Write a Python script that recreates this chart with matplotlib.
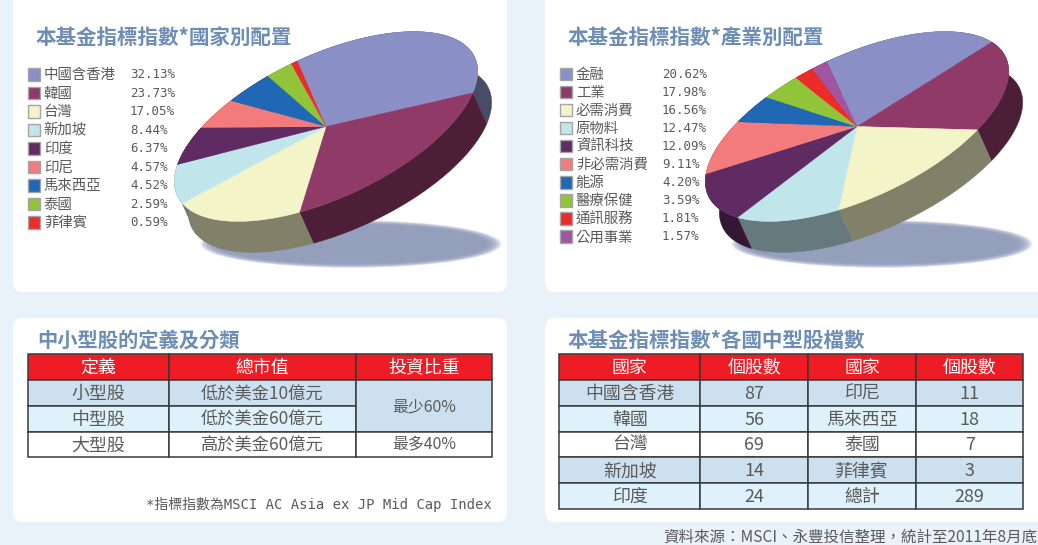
import numpy as np
import matplotlib
matplotlib.use("Agg")
import matplotlib.pyplot as plt
from matplotlib.colors import to_rgb
from matplotlib.patches import Ellipse, FancyBboxPatch, Polygon, Rectangle

plt.rcParams['font.family'] = ['Noto Sans CJK TC', 'DejaVu Sans']
MONO = ['DejaVu Sans Mono', 'Noto Sans CJK TC']

# data
country_names = ["中國含香港", "韓國", "台灣", "新加坡", "印度", "印尼", "馬來西亞", "泰國", "菲律賓"]
country_values = [32.13, 23.73, 17.05, 8.44, 6.37, 4.57, 4.52, 2.59, 0.59]
sector_names = ["金融", "工業", "必需消費", "原物料", "資訊科技", "非必需消費", "能源", "醫療保健", "通訊服務", "公用事業"]
sector_values = [20.62, 17.98, 16.56, 12.47, 12.09, 9.11, 4.20, 3.59, 1.81, 1.57]

size_header = ["定義", "總市值", "投資比重"]
size_col1 = ["小型股", "中型股", "大型股"]
size_col2 = ["低於美金10億元", "低於美金60億元", "高於美金60億元"]
size_col3 = ["最少60%", "最多40%"]

count_header = ["國家", "個股數", "國家", "個股數"]
count_names1 = ["中國含香港", "韓國", "台灣", "新加坡", "印度"]
count_values1 = ["87", "56", "69", "14", "24"]
count_names2 = ["印尼", "馬來西亞", "泰國", "菲律賓", "總計"]
count_values2 = ["11", "18", "7", "3", "289"]

# styles
slice_colors = ["#8a8fc6", "#8f3a67", "#f3f4c8", "#c0e6ec", "#602b62",
                "#f37b7c", "#2068b4", "#92c43a", "#ee2b2b", "#a0559f"]
BG = "#e9f1f9"
TITLE = "#6d8db5"
TEXT = "#5a5a5a"
ROWS = ["#cde0ef", "#dff1fa", "#ffffff"]
RED = "#ee1c25"

fig = plt.figure(figsize=(10.38, 5.45), dpi=100, facecolor=BG)
ax = fig.add_axes([0, 0, 1, 1])
ax.set_xlim(0, 1038)
ax.set_ylim(545, 0)
ax.axis("off")


def card(x0, y0, x1, y1):
    ax.add_patch(FancyBboxPatch((x0, y0), x1 - x0, y1 - y0, boxstyle="round,pad=0,rounding_size=10",
                                fc="white", ec="none", zorder=1))


card(13, -20, 507, 292)
card(545, -20, 1060, 292)
card(13, 318, 507, 522)
card(545, 318, 1060, 522)

A, B = 164, 71.5
PHI = np.radians(25)
DX, DY = 14, 31


def rim(cx, cy, t):
    x = cx + A * np.cos(t) * np.cos(PHI) - B * np.sin(t) * np.sin(PHI)
    y = cy - (A * np.cos(t) * np.sin(PHI) + B * np.sin(t) * np.cos(PHI))
    return np.column_stack([x, y])


def pie(cx, cy, values, start):
    # soft shadow under the pie
    for s in np.linspace(1.03, 0.93, 12):
        ax.add_patch(Ellipse((cx + 25, 244), 292 * s, 45 * s ** 2, fc="#8b98b8", ec="none", alpha=0.18, zorder=2))
    # clockwise from the start angle
    edges = np.radians(start - np.cumsum([0] + list(values)) * 3.6)
    for i in range(len(values)):
        t = np.linspace(edges[i], edges[i + 1], 80)
        arc = rim(cx, cy, t)
        low = arc + [DX, DY]
        dark = tuple(c * 0.53 for c in to_rgb(slice_colors[i]))
        ax.add_patch(Polygon(np.vstack([arc, low[::-1]]), fc=dark, ec=dark, lw=0.3, zorder=3))
    for i in range(len(values)):
        t = np.linspace(edges[i], edges[i + 1], 80)
        arc = rim(cx, cy, t)
        ax.add_patch(Polygon(np.vstack([[cx, cy], arc]), fc=slice_colors[i], ec=slice_colors[i], lw=0.3, zorder=4))


def legend(names, values, x_box, x_val, y0, step):
    for i, (name, val) in enumerate(zip(names, values)):
        y = y0 + i * step
        ax.add_patch(Rectangle((x_box, y - 6.2), 12.6, 12.4, fc=slice_colors[i], ec="#a5a5a5", lw=1, zorder=3))
        ax.text(x_box + 16, y + 1, name, fontsize=10.4, color=TEXT, va="center", ha="left", zorder=5)
        ax.text(x_val, y + 0.5, "%.2f%%" % val, fontsize=9, color=TEXT, family=MONO, va="center", ha="left", zorder=5)


def cell(x0, x1, y0, y1, label, fc, color=TEXT, size=12.9):
    ax.add_patch(Rectangle((x0, y0), x1 - x0, y1 - y0, fc=fc, ec="#3a3a3a", lw=1.1, zorder=3))
    ax.text((x0 + x1) / 2, (y0 + y1) / 2 + 0.8, label, fontsize=size, color=color, ha="center", va="center", zorder=5)


pie(326, 126.5, country_values, 89.5)
pie(857, 126.5, sector_values, 90)
legend(country_names, country_values, 27.8, 130, 74.3, 18.5)
legend(sector_names, sector_values, 559.8, 662, 74, 18.05)

ax.text(36, 38, "本基金指標指數*國家別配置", fontsize=14.8, fontweight="bold", color=TITLE, va="center", zorder=5)
ax.text(567.5, 38, "本基金指標指數*產業別配置", fontsize=14.8, fontweight="bold", color=TITLE, va="center", zorder=5)
ax.text(37.5, 340, "中小型股的定義及分類", fontsize=14.6, fontweight="bold", color=TITLE, va="center", zorder=5)
ax.text(567.5, 340, "本基金指標指數*各國中型股檔數", fontsize=14.8, fontweight="bold", color=TITLE, va="center", zorder=5)

# table of size classes
xs = [28, 168.7, 356.3, 492]
ys = [354.3, 380.3, 406, 431.7, 457.3]
for j, label in enumerate(size_header):
    cell(xs[j], xs[j + 1], ys[0], ys[1], label, RED, "white")
for i in range(3):
    cell(xs[0], xs[1], ys[i + 1], ys[i + 2], size_col1[i], ROWS[i])
    cell(xs[1], xs[2], ys[i + 1], ys[i + 2], size_col2[i], ROWS[i], size=12.4)
cell(xs[2], xs[3], ys[1], ys[3], size_col3[0], ROWS[0], size=11.4)
cell(xs[2], xs[3], ys[3], ys[4], size_col3[1], ROWS[2], size=11.4)

# table of stock counts
xs = [559.3, 700.3, 808.3, 916, 1023.3]
ys = [354.3, 380.3, 406, 431.7, 457.3, 483.3, 509]
for j, label in enumerate(count_header):
    cell(xs[j], xs[j + 1], ys[0], ys[1], label, RED, "white")
row_order = [0, 1, 2, 0, 1]
columns = [count_names1, count_values1, count_names2, count_values2]
for i in range(5):
    for j, col in enumerate(columns):
        cell(xs[j], xs[j + 1], ys[i + 1], ys[i + 2], col[i], ROWS[row_order[i]])

ax.text(492, 504, "*指標指數為MSCI AC Asia ex JP Mid Cap Index", fontsize=10, color=TEXT, family=MONO,
        ha="right", va="center", zorder=5)
ax.text(1037, 537, "資料來源：MSCI、永豐投信整理，統計至2011年8月底", fontsize=11.2, color=TEXT,
        ha="right", va="center", zorder=5)

fig.savefig("out.png", dpi=100, facecolor=BG)
